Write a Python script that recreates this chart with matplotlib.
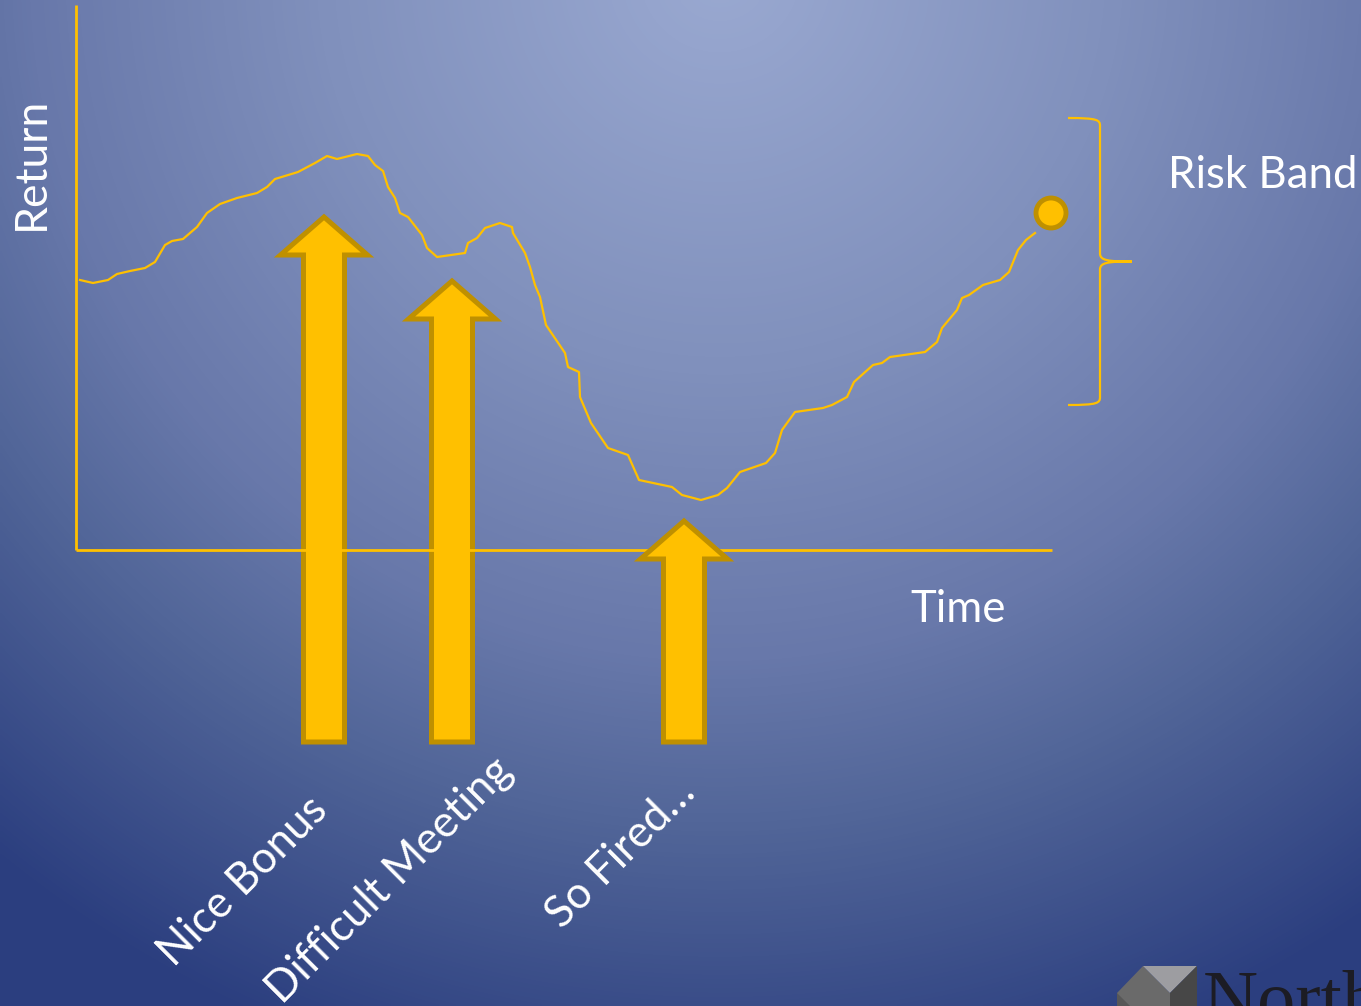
import numpy as np
import matplotlib
matplotlib.use("Agg")
import matplotlib.pyplot as plt
from matplotlib.patches import Polygon, PathPatch, Circle
from matplotlib.path import Path
from matplotlib.colors import LinearSegmentedColormap

# ---------------- data ----------------
time_values = [4, 17, 32, 41, 54, 69, 79, 89, 96, 107, 121, 131, 144, 161, 181, 191, 199, 222, 239, 251,
               261, 281, 292, 299, 307, 312, 319, 324, 332, 346, 351, 361, 389, 392, 401, 409, 424, 436, 437, 449,
               454, 459, 464, 470, 489, 492, 503, 504, 515, 532, 552, 563, 596, 606, 625, 642, 651, 664, 690, 699,
               706, 719, 747, 756, 771, 778, 797, 806, 814, 849, 861, 866, 881, 886, 893, 907, 924, 933, 942, 950,
               959]
return_values = [270, 267, 270, 276, 279, 282, 288, 305, 309, 311, 323, 337, 346, 352, 357, 363, 371, 378, 387, 394,
                 391, 396, 394, 385, 379, 363, 352, 337, 333, 315, 302, 293, 297, 307, 312, 322, 327, 323, 317, 297,
                 283, 265, 253, 225, 197, 183, 178, 153, 127, 102, 95, 70, 63, 55, 50, 55, 62, 78, 87, 97,
                 120, 138, 142, 145, 153, 168, 185, 187, 193, 198, 208, 222, 240, 252, 255, 265, 270, 278, 300, 310,
                 317]
current_point = (975, 337)

event_labels = ["Nice Bonus", "Difficult Meeting", "So Fired\u2026"]
event_time = [248, 376, 608]
event_tip = [333, 269, 29]

risk_band = (145, 432)   # low / high return of the band

# ---------------- style ----------------
GOLD = "#ffc000"
GOLD_EDGE = "#bf9000"
FS = 31.5
plt.rcParams['font.family'] = ['Lato', 'DejaVu Sans']

W, H = 1361, 1006
fig = plt.figure(figsize=(W / 100, H / 100), dpi=100)
ax = fig.add_axes([0, 0, 1, 1])
x0, x1 = -76, W - 76
y0, y1 = 550 - H, 550
ax.set_xlim(x0, x1)
ax.set_ylim(y0, y1)
ax.axis("off")

# background radial gradient
gx = np.linspace(0, W, 400)
gy = np.linspace(0, H, 300)
GX, GY = np.meshgrid(gx, gy)
d = np.sqrt((GX - 720) ** 2 + ((GY + 30) * 1.0) ** 2) / 1150
d = np.clip(d, 0, 1)
cmap = LinearSegmentedColormap.from_list("bg", [(0, "#9aa9d1"), (0.35, "#8090bc"), (0.6, "#6878aa"),
                                                (0.75, "#516598"), (1.0, "#2b3e7f")])
ax.imshow(d, cmap=cmap, vmin=0, vmax=1, extent=(x0, x1, y0, y1), origin="upper",
          aspect="auto", zorder=0, interpolation="bilinear")

# axes lines
ax.plot([0, 0], [0, 545], color=GOLD, lw=2.0, zorder=3, solid_capstyle="butt")
ax.plot([0, 976], [0, 0], color=GOLD, lw=2.0, zorder=3, solid_capstyle="butt")

# return curve
ax.plot(time_values, return_values, color=GOLD, lw=1.6, zorder=4, solid_joinstyle="round")
ax.add_patch(Circle(current_point, 15, facecolor=GOLD, edgecolor=GOLD_EDGE, lw=3.5, zorder=5))

# event arrows
base = -192
shaft_hw, head_hw, head_len = 20.5, 43.5, 38
for i, (t, tip) in enumerate(zip(event_time, event_tip)):
    hb = tip - head_len
    pts = [(t - shaft_hw, base), (t - shaft_hw, hb), (t - head_hw, hb), (t, tip),
           (t + head_hw, hb), (t + shaft_hw, hb), (t + shaft_hw, base)]
    z = 2 if i < 2 else 3.5
    ax.add_patch(Polygon(pts, closed=True, facecolor=GOLD, edgecolor=GOLD_EDGE, lw=3.6,
                         joinstyle="miter", zorder=z))

# event labels
label_pos = [(167, -331), (314, -330), (545, -303)]
for lab, (lx, ly) in zip(event_labels, label_pos):
    ax.text(lx, ly, lab, rotation=45, rotation_mode="anchor", ha="center", va="center",
            color="white", fontsize=FS, zorder=6)

# risk band brace
lo, hi = risk_band
mid = (lo + hi) / 2
bx, vx, cx = 992, 1024, 1056
verts = [(bx, hi), (vx - 2, hi), (vx, hi - 2), (vx, hi - 8),
         (vx, mid + 8),
         (vx, mid + 1), (vx + 8, mid), (cx, mid),
         (vx + 8, mid), (vx, mid - 1), (vx, mid - 8),
         (vx, lo + 8),
         (vx, lo + 2), (vx - 2, lo), (bx, lo)]
codes = [Path.MOVETO, Path.CURVE4, Path.CURVE4, Path.CURVE4,
         Path.LINETO,
         Path.CURVE4, Path.CURVE4, Path.CURVE4,
         Path.CURVE4, Path.CURVE4, Path.CURVE4,
         Path.LINETO,
         Path.CURVE4, Path.CURVE4, Path.CURVE4]
ax.add_patch(PathPatch(Path(verts, codes), facecolor="none", edgecolor=GOLD, lw=1.6, zorder=4))

# texts
ax.text(1092, 362, "Risk Band", color="white", fontsize=FS, ha="left", va="baseline", zorder=6)
ax.text(834, -72, "Time", color="white", fontsize=FS, ha="left", va="baseline", zorder=6)
ax.text(-32, 387, "Return", color="white", fontsize=FS + 0.5, rotation=90, rotation_mode="anchor",
        ha="center", va="baseline", zorder=6)

# logo (partially visible, cut by the slide edge as in the original)
ax.add_patch(Polygon([(1041, -443), (1067, -416), (1094, -443), (1094, -470), (1041, -470)],
                     closed=True, facecolor="#6a6a6a", edgecolor="none", zorder=6))
ax.add_patch(Polygon([(1041, -443), (1041, -470), (1068, -470)],
                     closed=True, facecolor="#575757", edgecolor="none", zorder=6))
ax.add_patch(Polygon([(1067, -416), (1121, -416), (1094, -443)],
                     closed=True, facecolor="#9d9da1", edgecolor="none", zorder=6))
ax.add_patch(Polygon([(1094, -443), (1121, -416), (1121, -470), (1094, -470)],
                     closed=True, facecolor="#474747", edgecolor="none", zorder=6))
ax.text(1127, -473, "North", color="#1c1c24", fontsize=55, family=["Liberation Serif", "DejaVu Serif"],
        ha="left", va="baseline", zorder=6)

fig.savefig("out.png", dpi=100)
